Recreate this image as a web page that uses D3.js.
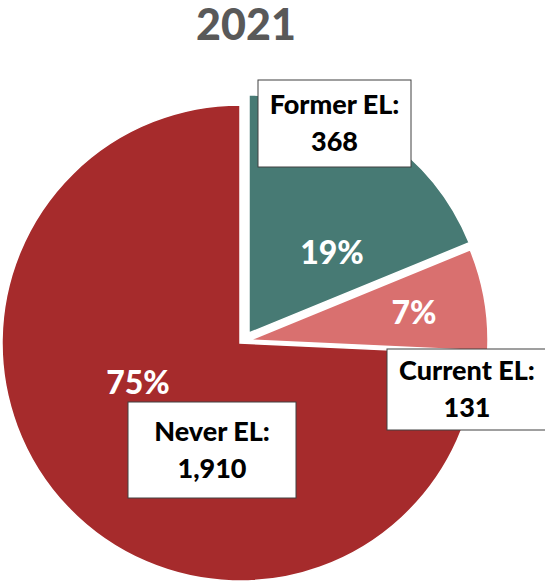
<!DOCTYPE html>
<html>
<head>
    <title>2021 EL pie</title>
    <script src="https://d3js.org/d3.v7.min.js"></script>
    <style>
        body { margin: 0; background: #fff; }
        svg { display: block; }
        .title { font-family: Lato, sans-serif; font-weight: 900; fill: #595959; }
        .pct { font-family: Lato, sans-serif; font-weight: 900; fill: #fff; }
        .box rect { fill: #fff; stroke: #404040; stroke-width: 1; }
        .box text { font-family: Lato, sans-serif; font-weight: 900; fill: #000; }
    </style>
</head>
<body>
    <svg></svg>
    <script>
        // Datos
        const categories = ["Former EL", "Current EL", "Never EL"];
        const counts = [368, 131, 1910];
        const percents = [19, 7, 75];
        const colors = ["#477A74", "#D9706F", "#A62B2C"];

        // Configuración
        const width = 545, height = 582;
        const cx = 240, cy = 343, radius = 238;
        // desplazamiento de cada porción (explotada)
        const explode = [[9, -10], [10, -3], [0, 0]];
        // posiciones de etiquetas (relativas al centro)
        const pctPos = [[92, -91], [174, -31], [-102, 39]];
        const boxes = [
            { x: 18, y: -263, w: 153, h: 87 },
            { x: 147, y: 6, w: 160, h: 81 },
            { x: -112, y: 59, w: 168, h: 96 }
        ];

        const svg = d3.select("svg")
            .attr("width", width)
            .attr("height", height);

        svg.append("text")
            .attr("class", "title")
            .attr("x", 246)
            .attr("y", 40)
            .attr("text-anchor", "middle")
            .attr("font-size", 43)
            .text("2021");

        const pie = d3.pie().sort(null).startAngle(0).endAngle(2 * Math.PI);
        const arcs = pie(percents);
        const arc = d3.arc().innerRadius(0).outerRadius(radius);

        const g = svg.append("g").attr("transform", `translate(${cx},${cy})`);

        g.selectAll("path")
            .data(arcs)
            .join("path")
            .attr("transform", (d, i) => `translate(${explode[i][0]},${explode[i][1]})`)
            .attr("d", arc)
            .attr("fill", (d, i) => colors[i])
            .attr("stroke", "#fff")
            .attr("stroke-width", 1.5);

        g.selectAll("text.pct")
            .data(arcs)
            .join("text")
            .attr("class", "pct")
            .attr("x", (d, i) => pctPos[i][0])
            .attr("y", (d, i) => pctPos[i][1])
            .attr("dy", "0.36em")
            .attr("text-anchor", "middle")
            .attr("font-size", 32)
            .text(d => d.data + "%");

        const box = g.selectAll("g.box")
            .data(categories)
            .join("g")
            .attr("class", "box")
            .attr("transform", (d, i) => `translate(${boxes[i].x},${boxes[i].y})`);

        box.append("rect")
            .attr("width", (d, i) => boxes[i].w)
            .attr("height", (d, i) => boxes[i].h);

        box.append("text")
            .attr("x", (d, i) => boxes[i].w / 2)
            .attr("y", (d, i) => boxes[i].h / 2 - 19)
            .attr("dy", "0.36em")
            .attr("text-anchor", "middle")
            .attr("font-size", 27)
            .text(d => d + ":");

        box.append("text")
            .attr("x", (d, i) => boxes[i].w / 2)
            .attr("y", (d, i) => boxes[i].h / 2 + 18)
            .attr("dy", "0.36em")
            .attr("text-anchor", "middle")
            .attr("font-size", 27)
            .text((d, i) => d3.format(",")(counts[i]));
    </script>
</body>
</html>
